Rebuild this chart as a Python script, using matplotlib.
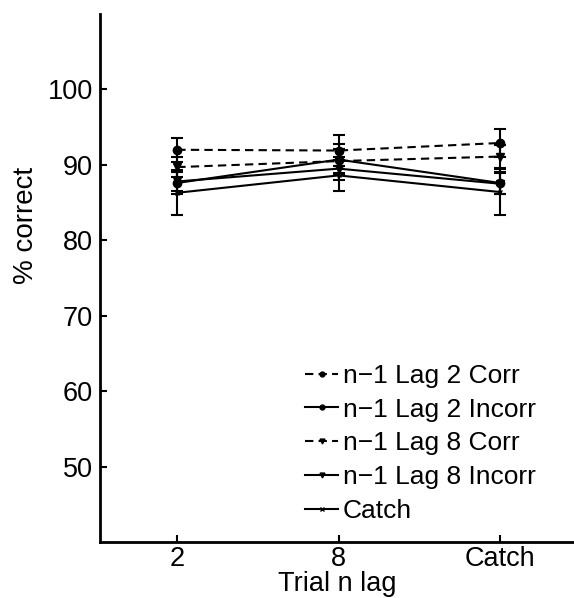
import matplotlib.pyplot as plt
from matplotlib.lines import Line2D

plt.rcParams['font.family'] = ['Liberation Sans', 'DejaVu Sans']

lags = ['2', '8', 'Catch']
x = [1, 2, 3]

labels = ['n\u22121 Lag 2 Corr', 'n\u22121 Lag 2 Incorr', 'n\u22121 Lag 8 Corr',
          'n\u22121 Lag 8 Incorr', 'Catch']
means = [
    [92.0, 91.9, 92.9],
    [87.6, 90.7, 87.6],
    [89.7, 90.5, 91.1],
    [87.8, 89.5, 87.5],
    [86.3, 88.6, 86.4],
]
errs = [
    [1.6, 2.1, 1.8],
    [1.5, 2.0, 1.5],
    [1.3, 1.6, 1.5],
    [1.3, 1.5, 1.4],
    [3.0, 2.0, 3.1],
]
dash = (0, (4, 2.5))
styles = [
    ('o', dash, 6),
    ('o', '-', 6),
    ('v', dash, 6),
    ('v', '-', 6),
    ('x', '-', 3),
]

fig = plt.figure(figsize=(5.74, 5.98), dpi=100)
ax = fig.add_axes([0.174, 0.0936, 0.826, 0.883])

handles = []
for lab, m, e, (mk, ls, ms) in zip(labels, means, errs, styles):
    ax.errorbar(x, m, yerr=e, color='black', marker=mk, markersize=ms,
                linestyle=ls, linewidth=1.5, elinewidth=1.5, capsize=4,
                capthick=1.5)
    handles.append(Line2D([], [], color='black', marker=mk, markersize=3.5,
                          linestyle=ls, linewidth=1.5, label=lab))

ax.set_xlim(0.52, 3.46)
ax.set_ylim(40, 110)
ax.set_xticks(x)
ax.set_xticklabels(lags)
ax.set_yticks([50, 60, 70, 80, 90, 100])
ax.tick_params(direction='in', length=5, width=1.5, labelsize=19.5, pad=5)
ax.tick_params(axis='x', pad=3)
for s in ['top', 'right']:
    ax.spines[s].set_visible(False)
for s in ['left', 'bottom']:
    ax.spines[s].set_linewidth(2)
ax.set_ylabel('% correct', fontsize=20)
ax.yaxis.set_label_coords(-0.128, 0.60)
ax.set_xlabel('Trial n lag', fontsize=19.5, labelpad=-1)

ax.legend(handles=handles, loc='lower left', bbox_to_anchor=(0.433, 0.036),
          frameon=False, fontsize=19, handlelength=1.25, handletextpad=0.18,
          labelspacing=0.37, borderpad=0, borderaxespad=0)

fig.savefig('out.png', dpi=100)
